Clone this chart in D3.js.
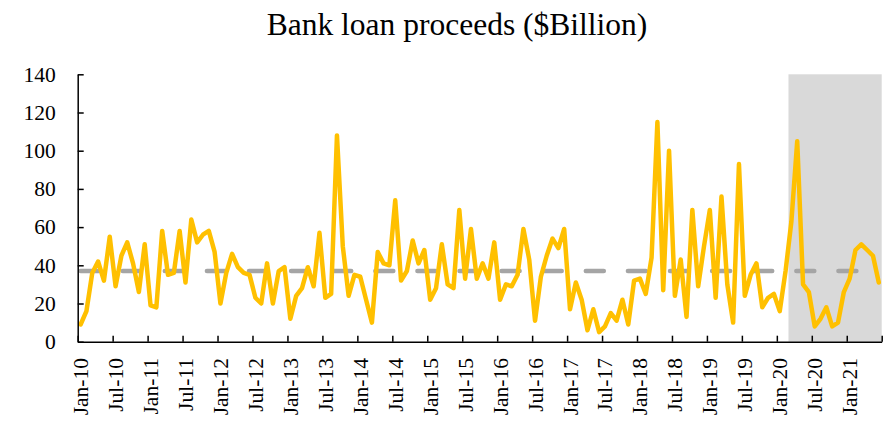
<!DOCTYPE html>
<html>
<head>
<meta charset="utf-8">
<script src="https://cdn.jsdelivr.net/npm/d3@7"></script>
<style>
  html, body { margin: 0; padding: 0; background: #fff; }
  svg { display: block; }
  text { font-family: "Liberation Serif", "Times New Roman", serif; fill: #000; }
</style>
</head>
<body>
<svg id="chart" width="885" height="422"></svg>
<script>
// ---- data ----
const title = "Bank loan proceeds ($Billion)";
const firstMonth = new Date(2010, 0, 1);
const lastMonth = new Date(2021, 5, 1);
const months = d3.timeMonth.range(firstMonth, d3.timeMonth.offset(lastMonth, 1));
const fmt = d3.timeFormat("%b-%y");
const categories = months.map(fmt);

const proceeds = [
   9, 16, 36, 42, 32, 55, 29, 45, 52, 41, 26, 51,
  19, 18, 58, 35, 36, 58, 31, 64, 52, 56, 58, 47,
  20, 36, 46, 39, 36, 35, 23, 20, 41, 20, 37, 39,
  12, 24, 28, 39, 29, 57, 23, 25,108, 50, 24, 35,
  34, 22, 10, 47, 41, 40, 74, 32, 37, 53, 41, 48,
  22, 28, 51, 30, 28, 69, 33, 59, 33, 41, 33, 52,
  22, 30, 29, 35, 59, 43, 11, 34, 45, 54, 49, 59,
  17, 31, 22,  6, 17,  5,  8, 15, 11, 22,  9, 32,
  33, 25, 44,115, 27,100, 24, 43, 13, 69, 29, 50,
  69, 23, 76, 30, 10, 93, 24, 35, 41, 18, 23, 25,
  16, 37, 63,105, 30, 26,  8, 12, 18,  8, 10, 26,
  33, 48, 51, 48, 45, 31
];
const average = 37;
const shadedFrom = "Mar-20";
const yTicks = [0, 20, 40, 60, 80, 100, 120, 140];
const xTickLabels = ["Jan-10","Jul-10","Jan-11","Jul-11","Jan-12","Jul-12","Jan-13","Jul-13",
  "Jan-14","Jul-14","Jan-15","Jul-15","Jan-16","Jul-16","Jan-17","Jul-17","Jan-18","Jul-18",
  "Jan-19","Jul-19","Jan-20","Jul-20","Jan-21"];

// ---- layout ----
const svg = d3.select("#chart");
const plotLeft = 77.7, plotRight = 881.7, plotTop = 74.3, plotBottom = 341.7;

const x = d3.scaleBand().domain(categories).range([plotLeft, plotRight]).paddingInner(0).paddingOuter(0);
const xIdx = d3.scaleLinear().domain([0, categories.length]).range([plotLeft, plotRight]);
const y = d3.scaleLinear().domain([0, 140]).range([plotBottom, plotTop]);
const cx = c => x(c) + x.bandwidth() / 2;

// shaded region
svg.append("rect")
  .attr("x", x(shadedFrom))
  .attr("y", y(140))
  .attr("width", plotRight - x(shadedFrom))
  .attr("height", y(0) - y(140))
  .attr("fill", "#D9D9D9");

// average dashed line
svg.append("path")
  .datum(categories)
  .attr("d", d3.line().x(c => cx(c)).y(() => y(average)))
  .attr("fill", "none")
  .attr("stroke", "#A5A5A5")
  .attr("stroke-width", 4.5)
  .attr("stroke-linecap", "round")
  .attr("stroke-dasharray", "18 24.1");

// main series
svg.append("path")
  .datum(proceeds)
  .attr("d", d3.line().x((d, i) => cx(categories[i])).y(d => y(d)))
  .attr("fill", "none")
  .attr("stroke", "#FFC000")
  .attr("stroke-width", 4.5)
  .attr("stroke-linejoin", "round")
  .attr("stroke-linecap", "round");

// y axis
const yAxis = svg.append("g")
  .attr("transform", `translate(${plotLeft},0)`)
  .call(d3.axisLeft(y).tickValues(yTicks).tickSizeInner(-6).tickSizeOuter(0).tickPadding(22));
yAxis.select(".domain").attr("stroke", "#000").attr("stroke-width", 1.5);
yAxis.selectAll(".tick line").attr("stroke", "#000").attr("stroke-width", 1.5);
yAxis.selectAll("text").style("font-size", "21.5px").attr("font-family", null);

// x axis ticks (category boundaries every 6 months)
const tickIdx = d3.range(0, categories.length + 1, 6);
const xTicksAxis = svg.append("g")
  .attr("transform", `translate(0,${plotBottom})`)
  .call(d3.axisBottom(xIdx).tickValues(tickIdx).tickFormat("").tickSizeInner(-6).tickSizeOuter(0));
xTicksAxis.select(".domain").attr("stroke", "#000").attr("stroke-width", 1.5);
xTicksAxis.selectAll(".tick line").attr("stroke", "#000").attr("stroke-width", 1.5);

// x axis labels (category centres)
const xLabelAxis = svg.append("g")
  .attr("transform", `translate(0,${plotBottom})`)
  .call(d3.axisBottom(x).tickValues(xTickLabels).tickSize(0));
xLabelAxis.select(".domain").remove();
xLabelAxis.selectAll("text")
  .attr("font-family", null)
  .style("font-size", "21.5px")
  .attr("transform", "rotate(-90)")
  .attr("text-anchor", "end")
  .attr("x", -16.3)
  .attr("y", 0)
  .attr("dy", "0.35em");

// title
svg.append("text")
  .attr("x", 457)
  .attr("y", 35)
  .attr("text-anchor", "middle")
  .style("font-size", "31.5px")
  .text(title);
</script>
</body>
</html>
